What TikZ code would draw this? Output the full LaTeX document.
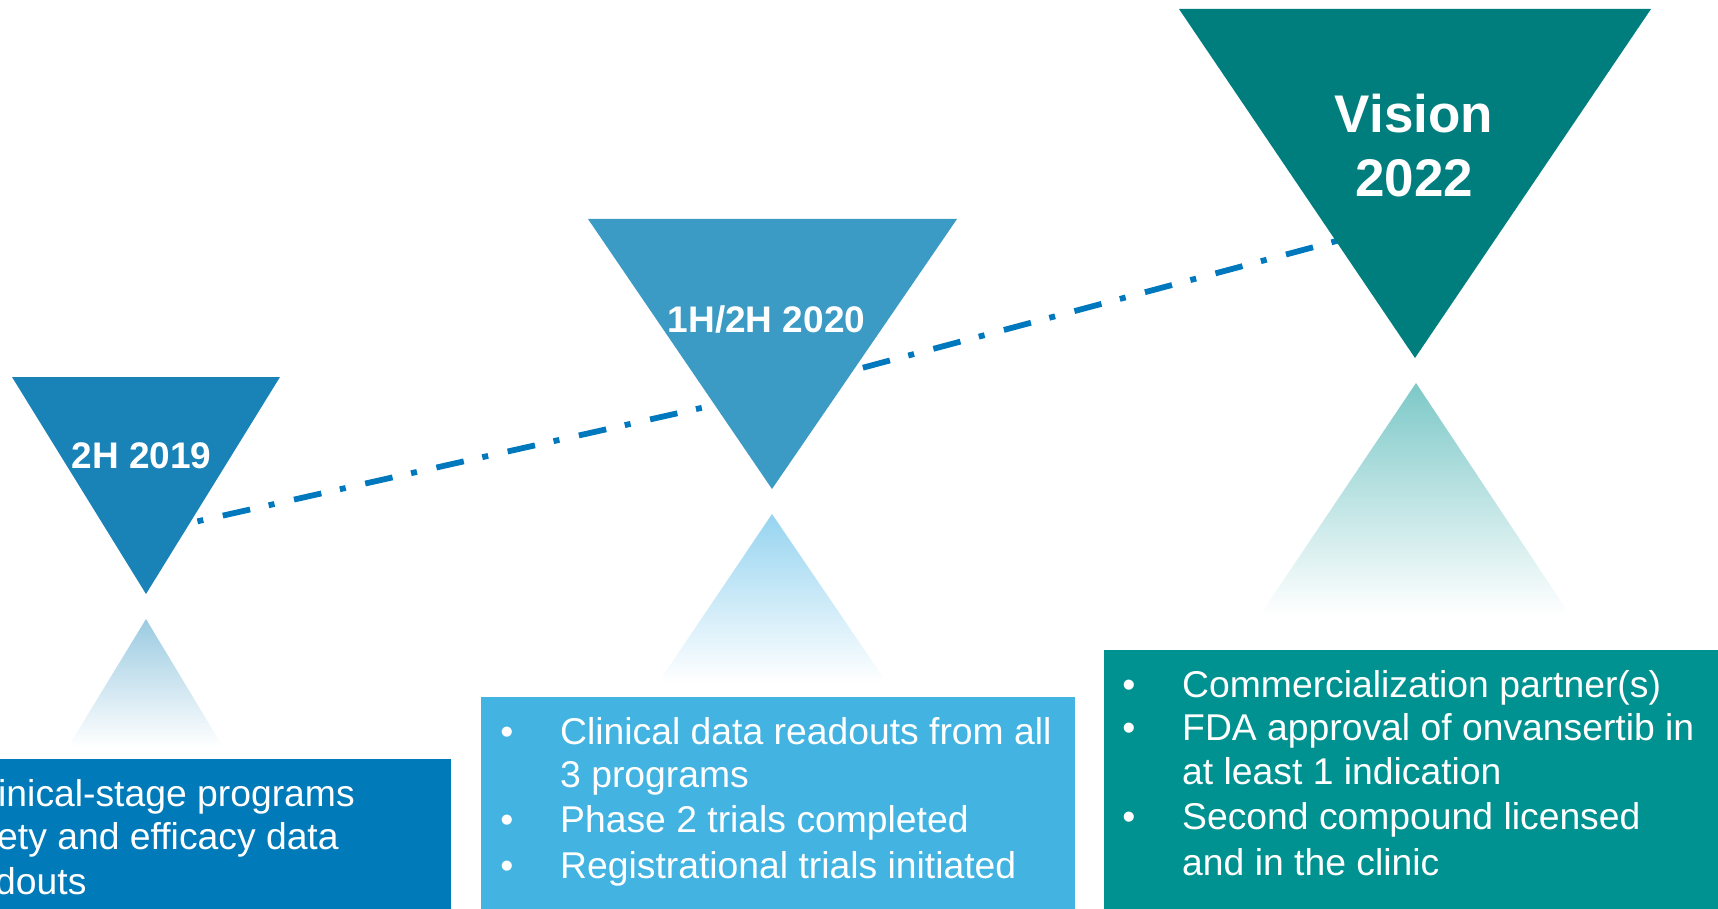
\documentclass[tikz,border=0pt]{standalone}
\usepackage{fontspec}
\setmainfont{Liberation Sans}
\definecolor{triA}{HTML}{1982B7}
\definecolor{triB}{HTML}{3C9BC4}
\definecolor{triC}{HTML}{007E7D}
\definecolor{boxA}{HTML}{007AB8}
\definecolor{boxB}{HTML}{43B3E2}
\definecolor{boxC}{HTML}{009290}
\definecolor{glowA}{HTML}{9BCBE1}
\definecolor{glowB}{HTML}{96D4F0}
\definecolor{glowC}{HTML}{7DC8C8}
\definecolor{lineblue}{HTML}{0078BE}
\begin{document}
\begin{tikzpicture}[x=1pt,y=-1pt,
  stamp/.style={text=white,font=\bfseries\fontsize{37}{44}\selectfont,inner sep=0pt,anchor=base},
  bigstamp/.style={text=white,font=\bfseries\fontsize{53}{64}\selectfont,inner sep=0pt,anchor=base},
  item/.style={text=white,font=\fontsize{37.3}{44}\selectfont,inner sep=0pt,anchor=base west},
  bul/.style={text=white,font=\fontsize{37.3}{44}\selectfont,inner sep=0pt,anchor=base},
  timeline/.style={line width=5.8pt,draw=lineblue,
    dash pattern=on 28pt off 19pt on 6pt off 20pt,dash phase=71.4pt}
]
\useasboundingbox (0,0) rectangle (1718,909);
\clip (0,0) rectangle (1718,909);

% milestone anchor points joined by the dash-dot timeline
\coordinate (mA) at (150,532);
\coordinate (mB) at (772,392);
\coordinate (mC) at (1415,220);
\draw[timeline] (mA) -- (mB) -- (mC);

% inverted milestone triangles
\fill[triA] (12,377) -- (280,377) -- (146,594) -- cycle;
\fill[triB] (588,219) -- (957,219) -- (772,489) -- cycle;
\fill[triC] (1179,9) -- (1651,9) -- (1415,358) -- cycle;

% fading mirror triangles
\shade[top color=glowA,bottom color=white] (146,619) -- (223,747) -- (68,747) -- cycle;
\shade[top color=glowB,bottom color=white] (772,514) -- (887,683) -- (658,683) -- cycle;
\shade[top color=glowC,bottom color=white] (1416,383) -- (1570,615) -- (1260,615) -- cycle;

% milestone boxes
\fill[boxA] (-5,759) rectangle (451,915);
\fill[boxB] (481,697) rectangle (1075,915);
\fill[boxC] (1104,650) rectangle (1725,915);

% triangle labels
\node[stamp] (tA) at (141.5,468) {2H 2019};
\node[stamp] (tB) at (766.5,332) {1H/2H 2020};
\node[bigstamp] (tC1) at (1414,133) {Vision};
\node[bigstamp] (tC2) at (1414,197) {2022};

% first box
\node[item] (a1) at (-2,806) {inical-stage programs};
\node[item] (a2) at (-3,849.5) {ety and efficacy data};
\node[item] (a3) at (-5,894) {douts};

% second box
\node[bul] (bb1) at (507,744) {\textbullet};
\node[item] (b1) at (560,744) {Clinical data readouts from all};
\node[item] (b2) at (560,787) {3 programs};
\node[bul] (bb3) at (507,832) {\textbullet};
\node[item] (b3) at (560,832) {Phase 2 trials completed};
\node[bul] (bb4) at (507,878) {\textbullet};
\node[item] (b4) at (560,878) {Registrational trials initiated};

% third box
\node[bul] (cb1) at (1129,697) {\textbullet};
\node[item] (c1) at (1182,697) {Commercialization partner(s)};
\node[bul] (cb2) at (1129,740) {\textbullet};
\node[item] (c2) at (1182,740) {FDA approval of onvansertib in};
\node[item] (c3) at (1182,784) {at least 1 indication};
\node[bul] (cb4) at (1129,829) {\textbullet};
\node[item] (c4) at (1182,829) {Second compound licensed};
\node[item] (c5) at (1182,875) {and in the clinic};
\end{tikzpicture}
\end{document}
